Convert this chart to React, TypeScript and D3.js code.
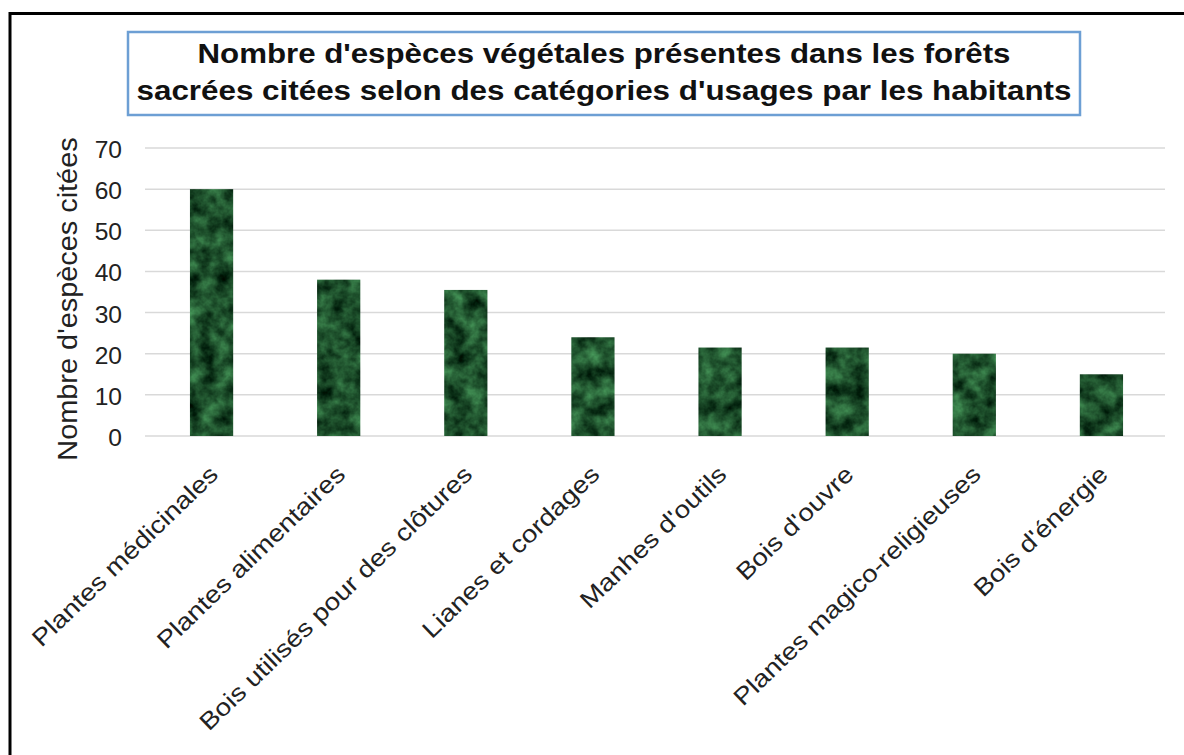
import { useEffect, useRef } from 'react';
import * as d3 from 'd3';

const categories = [
  'Plantes médicinales',
  'Plantes alimentaires',
  'Bois utilisés pour des clôtures',
  'Lianes et cordages',
  "Manhes d'outils",
  "Bois d'ouvre",
  'Plantes magico-religieuses',
  "Bois d'énergie",
];
const counts = [60, 38, 35.5, 24, 21.5, 21.5, 20, 15];
const yTicks = [0, 10, 20, 30, 40, 50, 60, 70];
const titleLines = [
  "Nombre d'espèces végétales présentes dans les forêts",
  "sacrées citées selon des catégories d'usages par les habitants",
];
const yTitle = "Nombre d'espèces citées";

const FONT = '"Liberation Sans", Arial, sans-serif';

const App = () => {
  const ref = useRef<SVGSVGElement | null>(null);

  useEffect(() => {
    if (!ref.current) return;
    const svg = d3.select(ref.current);
    svg.selectAll('*').remove();

    const width = 1184;
    const height = 755;
    svg.attr('width', width).attr('height', height);

    // marble-like green texture for the bars
    const defs = svg.append('defs');
    const filter = defs.append('filter')
      .attr('id', 'marble')
      .attr('color-interpolation-filters', 'sRGB')
      .attr('x', 0).attr('y', 0).attr('width', 1).attr('height', 1);
    filter.append('feTurbulence')
      .attr('type', 'fractalNoise')
      .attr('baseFrequency', 0.06)
      .attr('numOctaves', 4)
      .attr('seed', 5)
      .attr('result', 'noise');
    filter.append('feColorMatrix')
      .attr('in', 'noise')
      .attr('type', 'matrix')
      .attr('values', '0.4 0 0 0 -0.08  0.7 0 0 0 -0.03  0.45 0 0 0 -0.05  0 0 0 0 1')
      .attr('result', 'col');
    filter.append('feComposite')
      .attr('in', 'col')
      .attr('in2', 'SourceGraphic')
      .attr('operator', 'in');

    svg.append('rect')
      .attr('width', width).attr('height', height).attr('fill', '#fff');

    // outer frame
    svg.append('rect')
      .attr('x', 10).attr('y', 13.5)
      .attr('width', 1300).attr('height', 900)
      .attr('fill', 'none').attr('stroke', '#000').attr('stroke-width', 3);

    // title box
    svg.append('rect')
      .attr('x', 128).attr('y', 32).attr('width', 952).attr('height', 83)
      .attr('fill', '#fff').attr('stroke', '#6d9fd4').attr('stroke-width', 2.5);
    const titleWidths = [813, 935];
    svg.append('g')
      .selectAll('text')
      .data(titleLines)
      .enter()
      .append('text')
      .attr('x', 604)
      .attr('y', (_, i) => 63 + i * 37)
      .attr('text-anchor', 'middle')
      .attr('textLength', (_, i) => titleWidths[i])
      .attr('lengthAdjust', 'spacingAndGlyphs')
      .style('font-family', FONT)
      .style('font-weight', 'bold')
      .style('font-size', '27px')
      .attr('fill', '#111')
      .text(d => d);

    const margin = { left: 145, right: 1165, top: 148, bottom: 436 };

    const x = d3.scaleBand()
      .domain(categories)
      .range([148, margin.right])
      .paddingInner(0.66)
      .paddingOuter(0.33);

    const y = d3.scaleLinear()
      .domain([0, 70])
      .range([margin.bottom, margin.top]);

    // gridlines
    svg.append('g')
      .selectAll('line')
      .data(yTicks)
      .enter()
      .append('line')
      .attr('x1', margin.left)
      .attr('x2', margin.right)
      .attr('y1', d => y(d))
      .attr('y2', d => y(d))
      .attr('stroke', '#d9d9d9')
      .attr('stroke-width', 1.5);

    // y tick labels
    svg.append('g')
      .selectAll('text')
      .data(yTicks)
      .enter()
      .append('text')
      .attr('transform', d => `translate(122,${y(d) + 2}) scale(1.07,1)`)
      .attr('dy', '0.35em')
      .attr('text-anchor', 'end')
      .style('font-family', FONT)
      .style('font-size', '23px')
      .attr('fill', '#222')
      .text(d => d);

    // y title
    svg.append('text')
      .attr('transform', `translate(77,${(margin.top + margin.bottom) / 2 + 7}) rotate(-90) scale(1.07,1)`)
      .attr('text-anchor', 'middle')
      .style('font-family', FONT)
      .style('font-size', '27px')
      .attr('fill', '#222')
      .text(yTitle);

    // bars
    svg.append('g')
      .selectAll('rect')
      .data(counts)
      .enter()
      .append('rect')
      .attr('x', (_, i) => x(categories[i]) || 0)
      .attr('y', d => y(d))
      .attr('width', x.bandwidth())
      .attr('height', d => y(0) - y(d))
      .attr('fill', '#1d5a2e')
      .attr('filter', 'url(#marble)');

    // x labels
    svg.append('g')
      .selectAll('text')
      .data(categories)
      .enter()
      .append('text')
      .attr('transform', d => `translate(${(x(d) || 0) + x.bandwidth() / 2 + 8},${margin.bottom + 40}) rotate(-44) scale(1.16,1)`)
      .attr('text-anchor', 'end')
      .style('font-family', FONT)
      .style('font-size', '24px')
      .attr('fill', '#222')
      .text(d => d);
  }, []);

  return <svg ref={ref} style={{ position: 'absolute', left: 0, top: 0, display: 'block' }} />;
};

export default App;
